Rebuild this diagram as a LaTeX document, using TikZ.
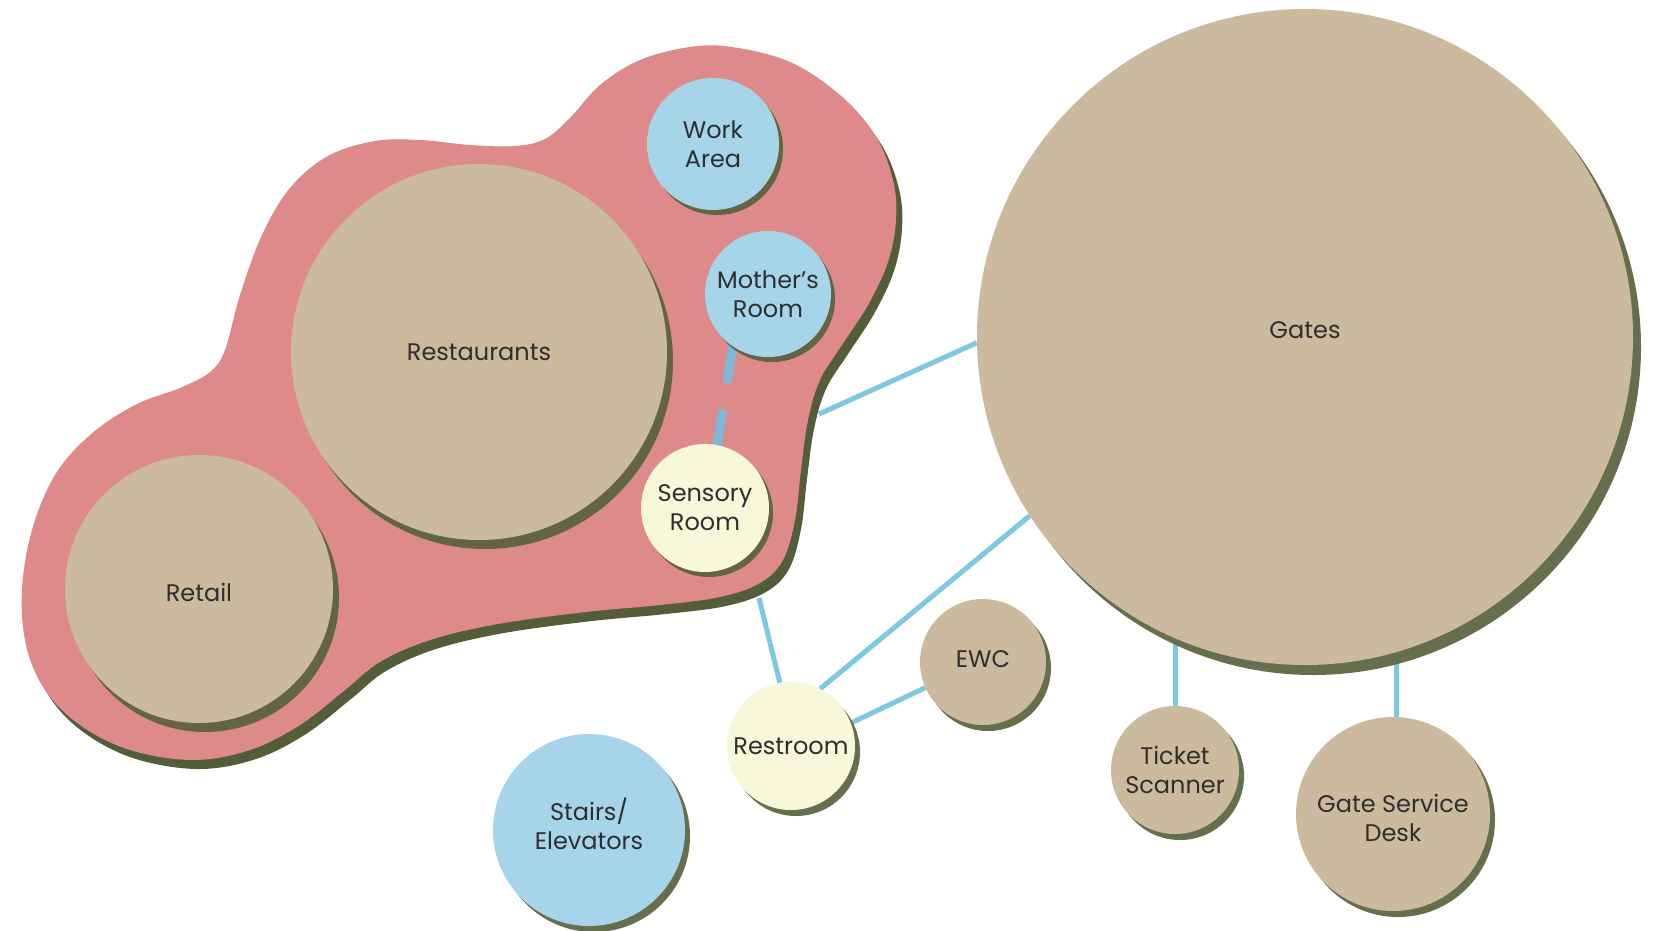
\documentclass[tikz,border=0pt]{standalone}
\usepackage{fontspec}
\setmainfont{Poppins}
\usetikzlibrary{shadows}
\definecolor{blobpink}{HTML}{DE8A8A}
\definecolor{tanc}{HTML}{CBBA9E}
\definecolor{skyb}{HTML}{A6D5E9}
\definecolor{cream}{HTML}{F7F7DA}
\definecolor{olive}{HTML}{636444}
\definecolor{oliveout}{HTML}{656E4D}
\definecolor{blobolive}{HTML}{535D39}
\definecolor{linkblue}{HTML}{7EC8E3}
\definecolor{dashblue}{HTML}{7DB8D8}
\definecolor{txt}{HTML}{2E2E2E}
\pgfdeclarelayer{paper}
\pgfdeclarelayer{bg}
\pgfsetlayers{paper,bg,main}
\newcommand\blobshape{plot[smooth cycle, tension=0.6] coordinates {
(732,47) (790,62) (840,95) (875,135) (893,180) (896,220) (888,262) (868,305)
(842,345) (820,380) (808,420) (801,470) (795,520) (783,560) (760,583) (720,597)
(660,605) (586,612) (498,624) (430,640) (380,662) (345,690) (300,725) (250,750)
(193,760) (130,750) (80,725) (45,690) (26,645) (22,590) (32,530) (55,475)
(90,435) (135,405) (180,388) (210,372) (225,350) (240,295) (262,235) (290,188)
(328,156) (375,141) (420,140) (470,145) (515,146) (545,139) (570,118) (600,85)
(640,60) (690,47)}}
\begin{document}
\begin{tikzpicture}[x=1pt,y=-1pt,
  place/.style={circle, inner sep=0pt, align=center, text=txt,
    font=\fontsize{24}{29}\selectfont},
  smallshade/.style={drop shadow={shadow xshift=4pt, shadow yshift=-5pt, fill=olive, opacity=1}},
  outshade/.style={drop shadow={shadow xshift=5pt, shadow yshift=-6pt, fill=oliveout, opacity=1}},
  bigshade/.style={drop shadow={shadow xshift=6pt, shadow yshift=-9pt, fill=olive, opacity=1}},
  gateshade/.style={drop shadow={shadow xshift=8pt, shadow yshift=-10pt, fill=oliveout, opacity=1}},
  link/.style={draw=linkblue, line width=5pt},
  dashlink/.style={draw=dashblue, line width=9pt, dash pattern=on 37pt off 27pt}
]
\useasboundingbox (0,0) rectangle (1660,930);
\begin{pgfonlayer}{paper}
\fill[white] (0,0) rectangle (1660,930);
\end{pgfonlayer}

% rooms
\node[place, fill=skyb, minimum size=132, smallshade] (work) at (713,144) {Work\\Area};
\node[place, fill=skyb, minimum size=126, smallshade] (mother) at (768,294) {Mother’s\\Room};
\node[place, fill=cream, minimum size=128, smallshade] (sensory) at (705,508) {Sensory\\Room};
\node[place, fill=tanc, minimum size=376, bigshade] (rest) at (479,352) {Restaurants};
\node[place, fill=tanc, minimum size=268, bigshade, text height=25pt] (retail) at (199,589) {Retail};
\node[place, fill=tanc, minimum size=656, gateshade, text depth=13pt] (gates) at (1305,337) {Gates};
\node[place, fill=tanc, minimum size=126, outshade, text depth=6pt] (ewc) at (983,662) {EWC};
\node[place, fill=cream, minimum size=128, outshade] (restroom) at (791,746) {Restroom};
\node[place, fill=skyb, minimum size=192, outshade, text depth=12pt] (stairs) at (589,830) {Stairs/\\Elevators};
\node[place, fill=tanc, minimum size=128, outshade] (ticket) at (1175,770) {Ticket\\Scanner};
\node[place, fill=tanc, minimum size=194, outshade, text height=55pt] (desk) at (1393,814) {Gate Service\\Desk};

\coordinate (blobE) at (819,414);
\coordinate (blobS) at (759,598);

\begin{pgfonlayer}{bg}
\fill[blobolive, shift={(6,9)}] \blobshape;
\fill[blobpink] \blobshape;
\draw[link] (blobE) -- (gates.181);
\draw[link] (blobS) -- (restroom.100);
\draw[link] (restroom.63) -- (gates.213);
\draw[link] (restroom.21) -- (ewc.204);
\draw[link] (ticket.north) -- (ticket.north |- gates.center);
\draw[link] (desk.88) -- (desk.88 |- gates.center);
\draw[dashlink] (mother.236) -- (sensory.79);
\end{pgfonlayer}
\end{tikzpicture}
\end{document}
